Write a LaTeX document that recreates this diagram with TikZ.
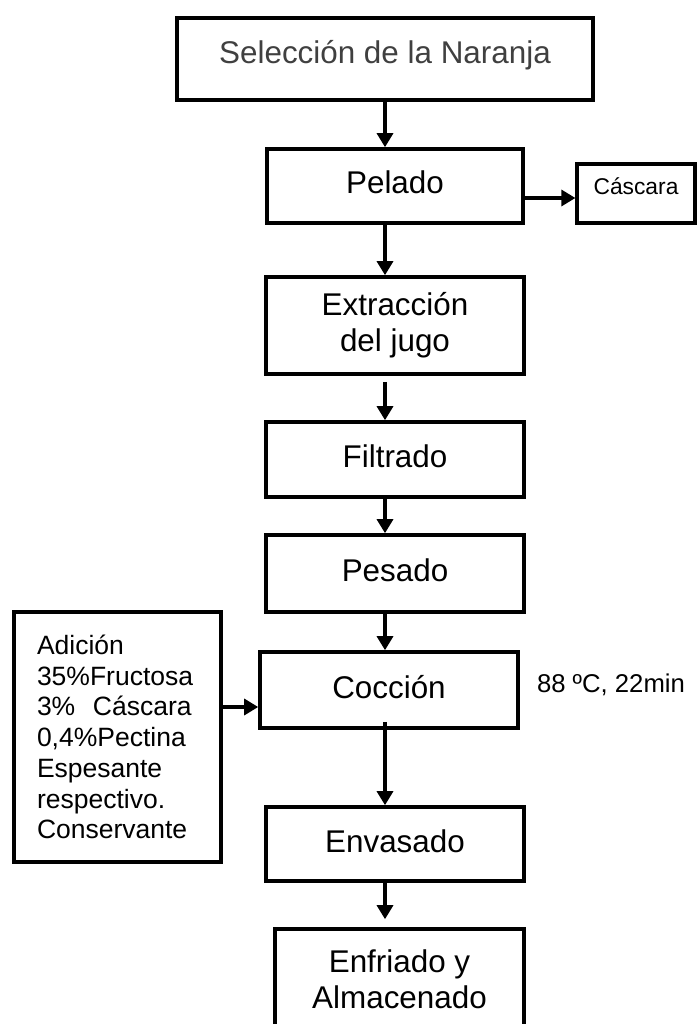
\documentclass[tikz,border=0pt]{standalone}
\usepackage{fontspec}
\setmainfont{Liberation Sans}
\usetikzlibrary{arrows.meta}
\definecolor{gristexto}{RGB}{64,64,64}

\begin{document}
\begin{tikzpicture}[x=1pt,y=1pt,->,>={Triangle[length=14pt,width=16pt]},line width=3.2pt,
  paso/.style={draw,rectangle,line width=3.6pt,inner sep=0pt,minimum width=258pt,minimum height=75pt,align=center,font=\fontsize{31.4pt}{36pt}\selectfont},
  unalinea/.style={text height=22pt,text depth=6pt},
  nota/.style={draw,rectangle,line width=3.6pt,inner ysep=0pt,inner xsep=23pt,text width=161pt,minimum height=250pt,align=left,font=\fontsize{26.5pt}{30.7pt}\selectfont}]
  \useasboundingbox (0,0) rectangle (697,-1024);
  \node[paso,minimum width=416pt,minimum height=82pt,text=gristexto,text height=22pt,text depth=12pt] (S) at (385,-59) {Selección de la Naranja};
  \node[paso,unalinea,minimum width=256pt,minimum height=74pt] (P) [node distance=127pt,below of=S,xshift=10pt] {Pelado};
  \node[draw,line width=3.2pt,minimum width=118pt,minimum height=59pt,inner sep=0pt,font=\fontsize{22.8pt}{26pt}\selectfont,text height=16pt,text depth=14pt] (Ca) [node distance=241pt,right of=P,yshift=-7.5pt] {Cáscara};
  \node[paso,minimum height=97pt] (E) [node distance=139.5pt,below of=P] {Extracción\\del jugo};
  \node[paso,unalinea] (F) [node distance=134pt,below of=E] {Filtrado};
  \node[paso,unalinea,minimum height=77pt] (Pe) [node distance=114pt,below of=F] {Pesado};
  \node[paso,unalinea,minimum height=76pt] (Co) [node distance=116.5pt,below of=Pe,xshift=-6pt] {Cocción};
  \node[font=\fontsize{25.7pt}{30pt}\selectfont] (T) [node distance=222pt,right of=Co,yshift=5pt] {88 ºC, 22min};
  \node[nota] (Ad) [node distance=271.5pt,left of=Co,yshift=-47pt] {Adición\\35\%Fructosa\\3\%\ \ Cáscara\\0,4\%Pectina\\Espesante\\respectivo.\\Conservante};
  \node[paso,unalinea,minimum height=74pt] (En) [node distance=154pt,below of=Co,xshift=6pt] {Envasado};
  \node[paso,minimum width=249pt,minimum height=100pt] (Ef) [node distance=135pt,below of=En,xshift=4.5pt] {Enfriado y\\Almacenado};
  \coordinate (pc) at ([yshift=-12pt]P.east);
  \coordinate (ac) at ([yshift=-17pt]Co.west);
  \path (S.south) edge (S.south |- P.north);
  \path (pc) edge (pc -| Ca.west);
  \path (S.south |- P.south) edge (S.south |- E.north);
  \path (S.south |- E.south) edge [shorten <=6pt] (S.south |- F.north);
  \path (S.south |- F.south) edge (S.south |- Pe.north);
  \path (S.south |- Pe.south) edge (S.south |- Co.north);
  \path (ac -| Ad.east) edge (ac);
  \path (S.south |- Co.south) edge [shorten <=-8pt] (S.south |- En.north);
  \path (S.south |- En.south) edge [shorten >=8pt] (S.south |- Ef.north);
\end{tikzpicture}
\end{document}
